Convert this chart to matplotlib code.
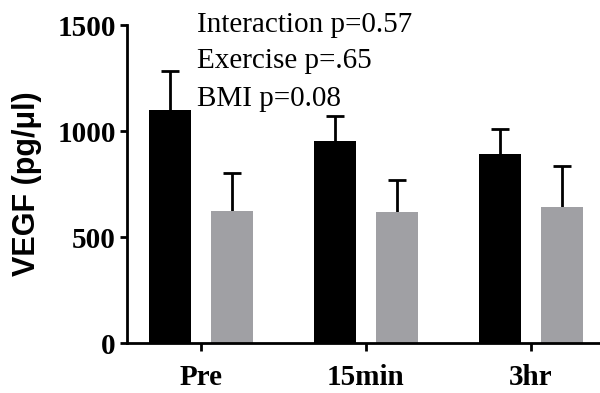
import matplotlib
matplotlib.use("Agg")
import matplotlib.pyplot as plt
import numpy as np

categories = ["Pre", "15min", "3hr"]
black_vals = [1100, 951, 893]
black_err = [184, 120, 116]
gray_vals = [624, 619, 640]
gray_err = [176, 150, 196]
yticks = [0, 500, 1000, 1500]
annotations = ["Interaction p=0.57", "Exercise p=.65", "BMI p=0.08"]

W, H = 600, 393
fig = plt.figure(figsize=(W / 100, H / 100), dpi=100)
ax = fig.add_axes([127 / W, 1 - 343 / H, 1 - 127 / W, (343 - 25) / H])

x = np.arange(len(categories))
width = 0.25
off = 0.188
cap = 0.055


def draw(xs, vals, errs, color):
    vals = np.asarray(vals)
    tops = vals + np.asarray(errs)
    ax.vlines(xs, vals * 0.95, tops, color="black", linewidth=2.0, zorder=1)
    ax.hlines(tops, xs - cap, xs + cap, color="black", linewidth=2.0, zorder=1)
    ax.bar(xs, vals, width, color=color, zorder=2)


draw(x - off, black_vals, black_err, "black")
draw(x + off, gray_vals, gray_err, "#a0a0a4")

ax.set_xlim(-0.448, 2.418)
ax.set_ylim(0, 1500)
ax.set_yticks(yticks)
ax.set_xticks(x)
ax.set_xticklabels(categories)

for s in ["top", "right"]:
    ax.spines[s].set_visible(False)
for s in ["left", "bottom"]:
    ax.spines[s].set_linewidth(2.0)

ax.tick_params(axis="y", width=2.0, length=5, direction="out", pad=3)
ax.tick_params(axis="x", width=2.0, length=6, direction="out", pad=9)
for lab in ax.get_xticklabels() + ax.get_yticklabels():
    lab.set_fontfamily("Liberation Serif")
    lab.set_fontweight("bold")
    lab.set_fontsize(21)

ax.set_ylabel("VEGF (pg/μl)", fontfamily="Liberation Sans", fontweight="bold", fontsize=22, labelpad=11)

baselines = [31.7, 68.5, 106]
for txt, yb in zip(annotations, baselines):
    fig.text(197 / W, 1 - yb / H, txt, fontfamily="Liberation Serif", fontsize=21, va="baseline", ha="left")

fig.savefig("out.png", dpi=100)
